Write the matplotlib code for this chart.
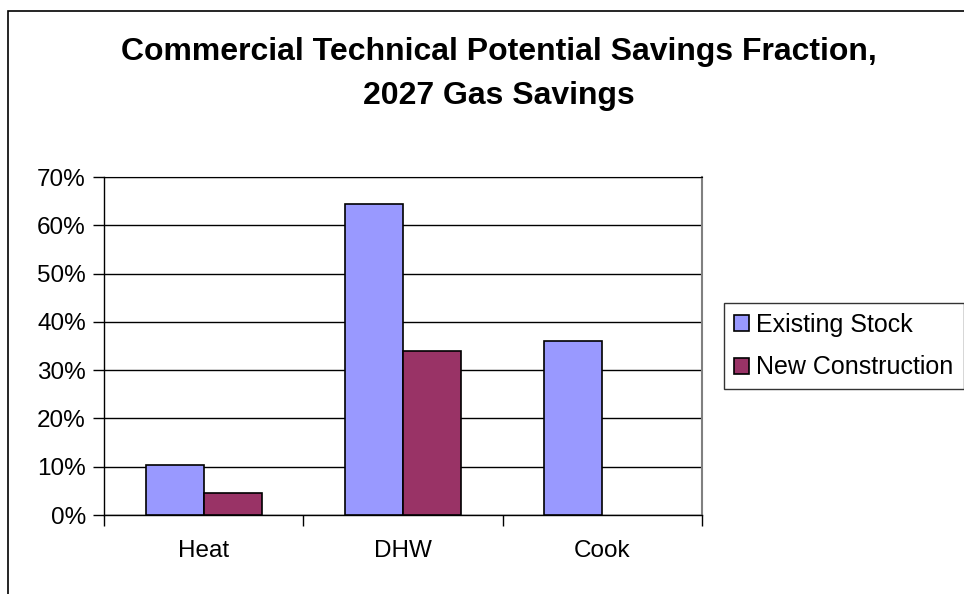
import matplotlib
matplotlib.use("Agg")
import matplotlib.pyplot as plt
from matplotlib.patches import Rectangle
import numpy as np

plt.rcParams['font.family'] = ['Liberation Sans', 'DejaVu Sans']

# data
categories = ["Heat", "DHW", "Cook"]
existing_stock = [0.104, 0.645, 0.360]
new_construction = [0.046, 0.339, 0.0]
series_names = ["Existing Stock", "New Construction"]
y_ticks = [0.0, 0.1, 0.2, 0.3, 0.4, 0.5, 0.6, 0.7]
y_tick_labels = ["0%", "10%", "20%", "30%", "40%", "50%", "60%", "70%"]
title_lines = ["Commercial Technical Potential Savings Fraction,", "2027 Gas Savings"]

W, H = 964, 594
fig = plt.figure(figsize=(W / 100, H / 100), dpi=100)

# chart area border (cut off at right and bottom like the screenshot)
fig.patches.append(Rectangle((8 / W, -0.1), 1.2, 1 - 11 / H + 0.1, transform=fig.transFigure,
                             fill=False, edgecolor="black", linewidth=1.2))

ax = fig.add_axes([104 / W, (H - 515) / H, 598 / W, 338 / H])

x = np.arange(len(categories))
bw = 0.291
b1 = ax.bar(x - bw / 2, existing_stock, bw, color="#9999FF", edgecolor="black", linewidth=1.2,
            label=series_names[0], zorder=3)
b2 = ax.bar(x + bw / 2, new_construction, bw, color="#993366", edgecolor="black", linewidth=1.2,
            label=series_names[1], zorder=3)
# Excel draws nothing for a zero value
for bars, vals in [(b1, existing_stock), (b2, new_construction)]:
    for r, v in zip(bars, vals):
        if v == 0:
            r.set_visible(False)

ax.set_xlim(-0.5, len(categories) - 0.5)
ax.set_ylim(0, 0.7)
ax.set_yticks(y_ticks)
ax.set_yticklabels(y_tick_labels, fontsize=17.5)
ax.yaxis.grid(True, color="black", linewidth=1)
ax.set_axisbelow(True)

# category ticks sit between groups, labels centred under them
ax.set_xticks(np.arange(-0.5, len(categories)), minor=False)
ax.set_xticklabels([])
ax.set_xticks(x, minor=True)
ax.set_xticklabels(categories, minor=True, fontsize=17.5)
ax.tick_params(axis="x", which="major", length=8, width=1, direction="out")
ax.tick_params(axis="x", which="minor", length=0, pad=18)
ax.tick_params(axis="y", length=8, width=1, direction="out", pad=5)

ax.spines["top"].set_color("black")
ax.spines["right"].set_color("#808080")
ax.spines["right"].set_linewidth(1.5)
for s in ["left", "bottom"]:
    ax.spines[s].set_linewidth(1)

fig.text(499 / W, 1 - 52 / H, title_lines[0], ha="center", va="center", fontsize=23, fontweight="bold")
fig.text(499 / W, 1 - 96 / H, title_lines[1], ha="center", va="center", fontsize=23, fontweight="bold")

leg = fig.legend(handles=[b1, b2], loc="center left", bbox_to_anchor=(724 / W, 1 - 346 / H),
                 fontsize=18, frameon=True, fancybox=False, shadow=False,
                 handlelength=0.6, handleheight=0.6, handletextpad=0.3,
                 borderpad=0.4, labelspacing=0.75, borderaxespad=0)
leg.get_frame().set_edgecolor("black")
leg.get_frame().set_linewidth(1)

fig.savefig("out.png", dpi=100)
